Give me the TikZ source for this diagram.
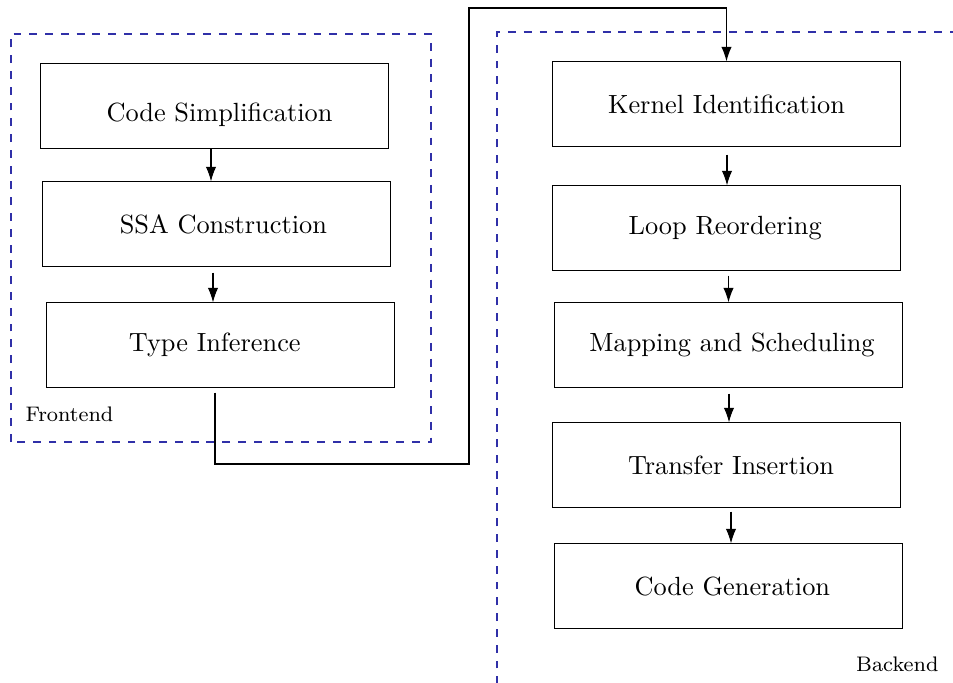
\documentclass[tikz,border=0pt]{standalone}
\usetikzlibrary{arrows.meta,calc}
\definecolor{groupblue}{RGB}{48,48,168}
\begin{document}
\begin{tikzpicture}[x=0.38pt,y=-0.38pt,
  stage/.style={draw, line width=0.4pt, minimum width=132pt, minimum height=32pt, inner sep=0pt, font=\normalsize},
  group/.style={draw=groupblue, dashed, line width=0.45pt},
  flow/.style={-{Latex[length=5.5pt,width=3.9pt]}, line width=0.4pt},
  tag/.style={font=\footnotesize, inner sep=0pt}]
\useasboundingbox (0,0) rectangle (953,682);

% group frames
\draw[group] (11,442) -- (11,34) -- (431,34) -- (431,442) -- cycle;
\begin{scope}
  \clip (0,0) rectangle (953,682);
  \draw[group] (497,700) -- (497,32) -- (970,32);
\end{scope}
\node[tag, anchor=base west] (fe) at (25,421) {Frontend};
\node[tag, anchor=base east] (be) at (939,671) {Backend};

% frontend stages
\node[stage, text height=13.7pt, text depth=1.9pt] (cs) at (214.5,106) {\hspace*{3.8pt}Code Simplification};
\node[stage] (ssa) at (216.5,224) {\hspace*{5.2pt}SSA Construction};
\node[stage] (ti)  at (220.5,345) {Type Inference\hspace*{4.4pt}};

% backend stages
\node[stage] (ki) at (726.5,104) {Kernel Identification};
\node[stage] (lr) at (726.5,228) {Loop Reordering\hspace*{1pt}};
\node[stage] (ms) at (728.5,345) {\hspace*{2.7pt}Mapping and Scheduling};
\node[stage] (tr) at (726.5,465) {\hspace*{3.4pt}Transfer Insertion};
\node[stage] (cg) at (728.5,586) {\hspace*{2.9pt}Code Generation};

% frontend flow
\draw[flow] ($(cs.south)+(-3.5,0)$) -- ($(ssa.north)+(-5.5,0)$);
\draw[flow] ($(ssa.south)+(-3.5,6)$) -- ($(ti.north)+(-7.5,0)$);

% frontend to backend
\coordinate (up) at (469,8);
\draw[flow] ($(ti.south)+(-5.5,5)$) |- (up |- 0,464) -- (up) -| (ki.north);

% backend flow
\draw[flow] ($(ki.south)+(0.5,8)$) -- ($(lr.north)+(0.5,0)$);
\draw[flow] ($(lr.south)+(2,5)$) -- ($(ms.north)+(0,0)$);
\draw[flow] ($(ms.south)+(0.5,6)$) -- ($(tr.north)+(2.5,0)$);
\draw[flow] ($(tr.south)+(4.5,4)$) -- ($(cg.north)+(2.5,0)$);
\end{tikzpicture}
\end{document}
